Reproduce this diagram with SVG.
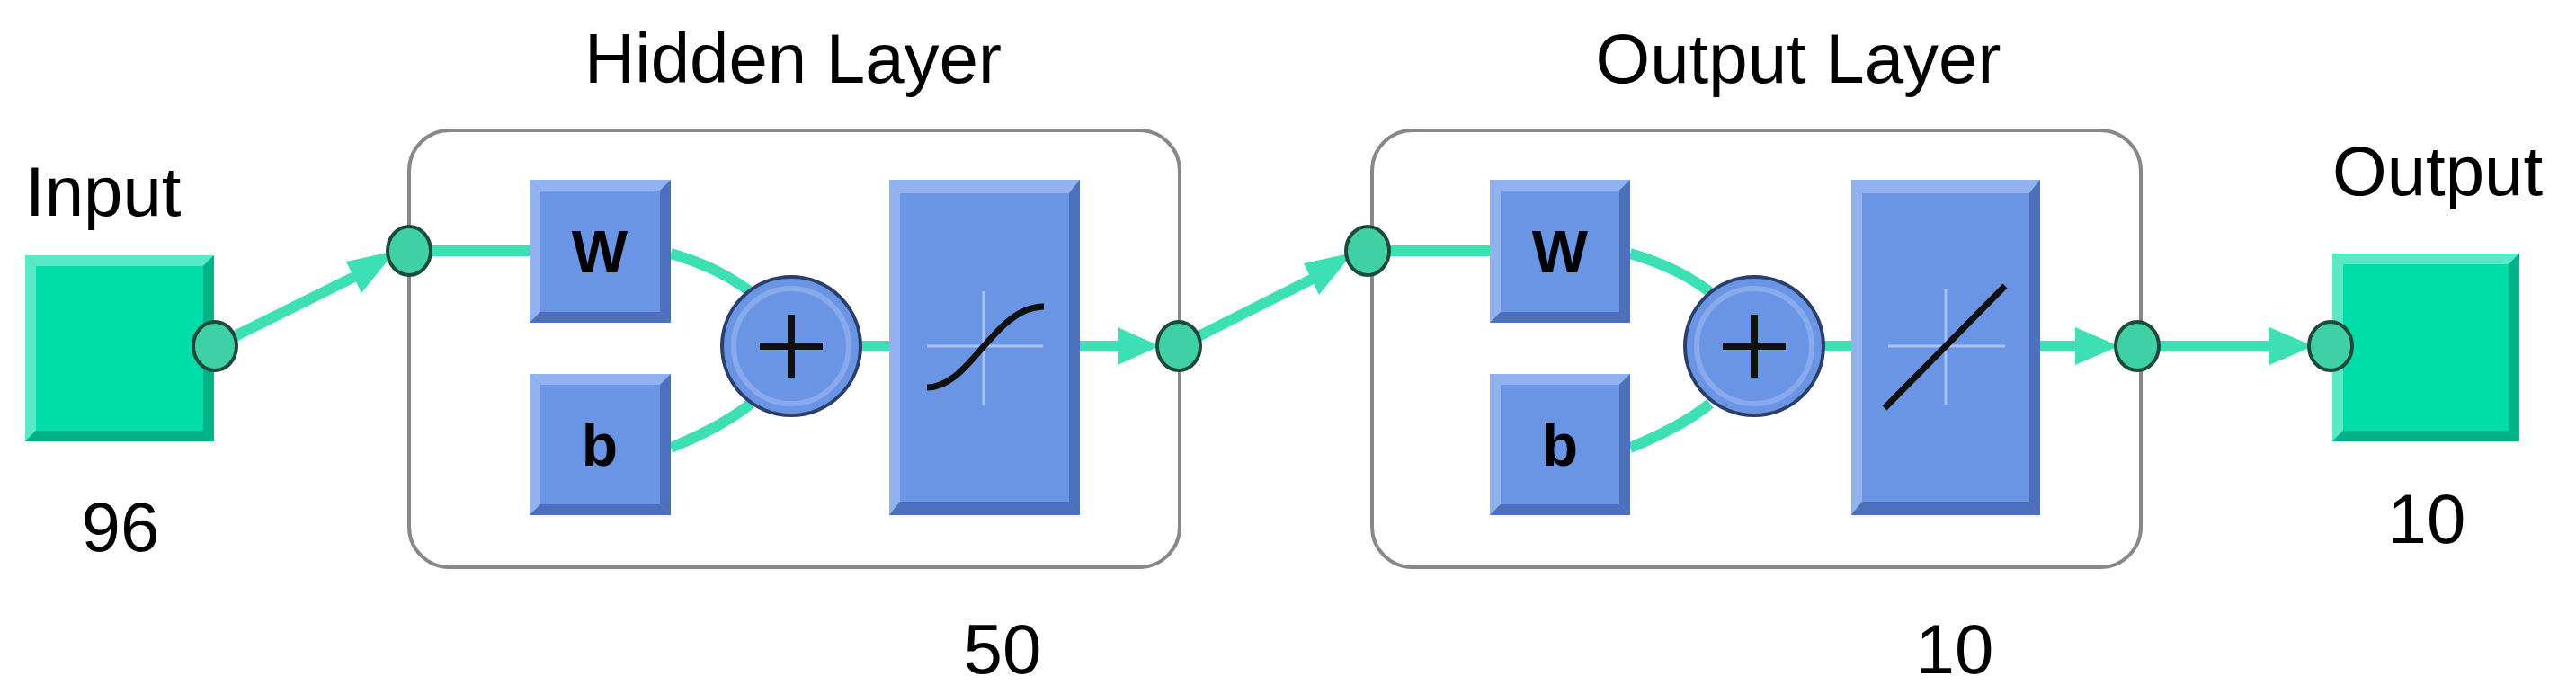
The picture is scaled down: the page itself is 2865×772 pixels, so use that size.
<svg xmlns="http://www.w3.org/2000/svg" width="2865" height="772" viewBox="0 0 2865 772">
<defs>
<style>
.t{font-family:"Liberation Sans",Arial,sans-serif;font-size:78px;fill:#000}
.lbl{font-family:"Liberation Sans",Arial,sans-serif;font-size:66px;font-weight:bold;fill:#000;text-anchor:middle}
.blue{fill:#6a94e4}
.lt{fill:#92b2ef}
.dk{fill:#4d70bc}
.tealbox{fill:#00dcaa}
.tlt{fill:#5ae8c6}
.tdk{fill:#00b288}
.layer{fill:#fff;stroke:#888;stroke-width:4}
.wire{fill:none;stroke:#3de0b4;stroke-width:12}
.dot{fill:#3fd0a6;stroke:#1d4a3a;stroke-width:4}
.ah{fill:#3de0b4}
.cross{stroke:#a9c2f3;stroke-width:3}
.curve{fill:none;stroke:#111;stroke-width:7}
</style>
</defs>
<rect width="2865" height="772" fill="#fff"/>
<text class="t" x="28" y="240">Input</text>
<text class="t" x="134" y="613" text-anchor="middle">96</text>
<text class="t" x="882" y="92" text-anchor="middle">Hidden Layer</text>
<text class="t" x="1115" y="749" text-anchor="middle">50</text>
<text class="t" x="2000" y="92" text-anchor="middle">Output Layer</text>
<text class="t" x="2174" y="749" text-anchor="middle">10</text>
<text class="t" x="2594" y="217">Output</text>
<text class="t" x="2699" y="604" text-anchor="middle">10</text>

<g id="hidden-layer"><rect class="layer" x="455" y="145" width="857" height="486" rx="45"/></g>
<g id="output-layer"><rect class="layer" x="1526" y="145" width="855" height="486" rx="45"/></g>

<g id="connectors">
<line class="wire" x1="239" y1="385" x2="420" y2="295"/>
<polygon class="ah" points="440,279 385,291 402,326"/>
<line class="wire" x1="455" y1="279" x2="589" y2="279"/>
<path class="wire" d="M746,282 C790,295 815,310 835,325"/>
<path class="wire" d="M746,498 C790,480 815,465 835,449"/>
<line class="wire" x1="955" y1="385" x2="989" y2="385"/>
<line class="wire" x1="1201" y1="385" x2="1250" y2="385"/>
<polygon class="ah" points="1290,385 1243,364 1243,406"/>
<line class="wire" x1="1311" y1="385" x2="1480" y2="300"/>
<polygon class="ah" points="1505,281 1450,293 1467,328"/>
<line class="wire" x1="1521" y1="279" x2="1657" y2="279"/>
<path class="wire" d="M1813,282 C1857,295 1882,310 1902,325"/>
<path class="wire" d="M1813,498 C1857,480 1882,465 1902,449"/>
<line class="wire" x1="2026" y1="385" x2="2059" y2="385"/>
<line class="wire" x1="2269" y1="385" x2="2320" y2="385"/>
<polygon class="ah" points="2357,385 2308,364 2308,406"/>
<line class="wire" x1="2377" y1="385" x2="2540" y2="385"/>
<polygon class="ah" points="2573,385 2524,364 2524,406"/>
</g>

<g id="input">
<rect class="tealbox" x="28" y="284" width="210" height="207"/>
<polygon class="tlt" points="28,284 238,284 226,296 40,296"/>
<polygon class="tlt" points="28,284 40,296 40,479 28,491"/>
<polygon class="tdk" points="28,491 238,491 226,479 40,479"/>
<polygon class="tdk" points="238,284 238,491 226,479 226,296"/>
<ellipse class="dot" cx="239" cy="385" rx="24" ry="27"/>
</g>
<g id="output">
<rect class="tealbox" x="2594" y="282" width="208" height="209"/>
<polygon class="tlt" points="2594,282 2802,282 2790,294 2606,294"/>
<polygon class="tlt" points="2594,282 2606,294 2606,479 2594,491"/>
<polygon class="tdk" points="2594,491 2802,491 2790,479 2606,479"/>
<polygon class="tdk" points="2802,282 2802,491 2790,479 2790,294"/>
<ellipse class="dot" cx="2592" cy="385" rx="24" ry="27"/>
</g>

<g id="hidden-in"><ellipse class="dot" cx="455" cy="279" rx="24" ry="27"/></g>
<g id="hidden-w">
<rect class="blue" x="589" y="200" width="157" height="159"/>
<polygon class="lt" points="589,200 746,200 734,212 601,212"/><polygon class="lt" points="589,200 601,212 601,347 589,359"/>
<polygon class="dk" points="589,359 746,359 734,347 601,347"/><polygon class="dk" points="746,200 746,359 734,347 734,212"/>
<text class="lbl" x="667" y="303">W</text></g>
<g id="hidden-b">
<rect class="blue" x="589" y="416" width="157" height="157"/>
<polygon class="lt" points="589,416 746,416 734,428 601,428"/><polygon class="lt" points="589,416 601,428 601,561 589,573"/>
<polygon class="dk" points="589,573 746,573 734,561 601,561"/><polygon class="dk" points="746,416 746,573 734,561 734,428"/>
<text class="lbl" x="667" y="518">b</text></g>
<g id="hidden-sum">
<circle cx="880" cy="385" r="77" fill="#6a94e4" stroke="#2a3f6a" stroke-width="4"/>
<circle cx="880" cy="385" r="64" fill="none" stroke="#88a9ec" stroke-width="6"/>
<line x1="845" y1="385" x2="915" y2="385" stroke="#111" stroke-width="8"/><line x1="880" y1="350" x2="880" y2="420" stroke="#111" stroke-width="8"/></g>
<g id="hidden-tansig">
<rect class="blue" x="989" y="200" width="212" height="373"/>
<polygon class="lt" points="989,200 1201,200 1189,215 1001,215"/><polygon class="lt" points="989,200 1001,215 1001,558 989,573"/>
<polygon class="dk" points="989,573 1201,573 1189,558 1001,558"/><polygon class="dk" points="1201,200 1201,573 1189,558 1189,215"/>
<line class="cross" x1="1031" y1="385" x2="1160" y2="385"/><line class="cross" x1="1094" y1="324" x2="1094" y2="451"/>
<path class="curve" d="M1031,431 C1080,431 1105,341 1161,341"/></g>
<g id="hidden-out"><ellipse class="dot" cx="1311" cy="385" rx="24" ry="27"/></g>

<g id="output-in"><ellipse class="dot" cx="1521" cy="279" rx="24" ry="27"/></g>
<g id="output-w">
<rect class="blue" x="1657" y="200" width="156" height="159"/>
<polygon class="lt" points="1657,200 1813,200 1801,212 1669,212"/><polygon class="lt" points="1657,200 1669,212 1669,347 1657,359"/>
<polygon class="dk" points="1657,359 1813,359 1801,347 1669,347"/><polygon class="dk" points="1813,200 1813,359 1801,347 1801,212"/>
<text class="lbl" x="1735" y="303">W</text></g>
<g id="output-b">
<rect class="blue" x="1657" y="416" width="156" height="157"/>
<polygon class="lt" points="1657,416 1813,416 1801,428 1669,428"/><polygon class="lt" points="1657,416 1669,428 1669,561 1657,573"/>
<polygon class="dk" points="1657,573 1813,573 1801,561 1669,561"/><polygon class="dk" points="1813,416 1813,573 1801,561 1801,428"/>
<text class="lbl" x="1735" y="518">b</text></g>
<g id="output-sum">
<circle cx="1951" cy="385" r="77" fill="#6a94e4" stroke="#2a3f6a" stroke-width="4"/>
<circle cx="1951" cy="385" r="64" fill="none" stroke="#88a9ec" stroke-width="6"/>
<line x1="1916" y1="385" x2="1986" y2="385" stroke="#111" stroke-width="8"/><line x1="1951" y1="350" x2="1951" y2="420" stroke="#111" stroke-width="8"/></g>
<g id="output-purelin">
<rect class="blue" x="2059" y="200" width="210" height="373"/>
<polygon class="lt" points="2059,200 2269,200 2257,215 2071,215"/><polygon class="lt" points="2059,200 2071,215 2071,558 2059,573"/>
<polygon class="dk" points="2059,573 2269,573 2257,558 2071,558"/><polygon class="dk" points="2269,200 2269,573 2257,558 2257,215"/>
<line class="cross" x1="2100" y1="385" x2="2230" y2="385"/><line class="cross" x1="2164" y1="322" x2="2164" y2="450"/>
<line x1="2096" y1="454" x2="2230" y2="318" stroke="#111" stroke-width="7"/></g>
<g id="output-out"><ellipse class="dot" cx="2377" cy="385" rx="24" ry="27"/></g>
</svg>
